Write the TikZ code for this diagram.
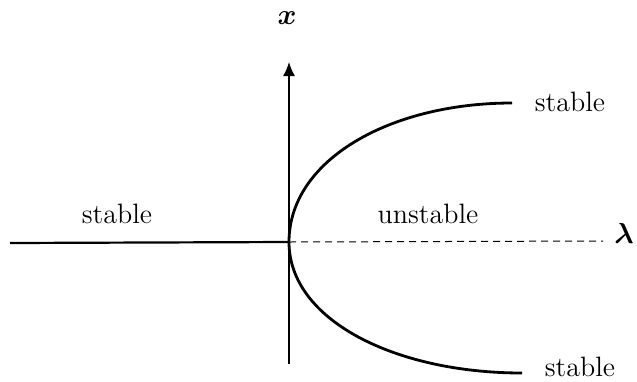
\documentclass[tikz,border=0pt]{standalone}
\usepackage{amsmath}
\usepackage{amssymb}
\usepackage{xcolor}
\usetikzlibrary{arrows.meta}

\begin{document}
\begin{tikzpicture}[x=0.5pt,y=-0.5pt,
  lbl/.style={font=\fontsize{14}{16}\selectfont},
  axlbl/.style={font=\fontsize{14}{16}\selectfont\boldmath}]
\useasboundingbox (0,0) rectangle (637,381);
\coordinate (O) at (289,242);
\coordinate (xtop) at (289,62);
\coordinate (xbot) at (289,364);
\coordinate (lend) at (10,243);
\coordinate (rend) at (603,241);
\coordinate (up) at (512,103);
\coordinate (lo) at (522,373);
% axes
\draw[line width=0.75pt,-{Latex[length=7pt,width=6pt]}] (xbot) -- (xtop);
\node[axlbl] (xl) at (287,18) {\(x\)};
\draw[line width=1.1pt] (lend) -- (O);
\draw[line width=0.5pt,dash pattern=on 3.5pt off 2.5pt] (O) -- (rend);
\node[axlbl,anchor=east,inner sep=1pt] (ll) at (636,233) {\(\lambda\)};
% branches
\draw[line width=1.4pt] (up) .. controls (390,103) and (289,160) .. (O)
  .. controls (289,320) and (395,373) .. (lo);
\node[lbl] (s1) at (117,214) {stable};
\node[lbl] (u) at (428,214) {unstable};
\node[lbl] (s2) at (570,102) {stable};
\node[lbl] (s3) at (580,367) {stable};
\end{tikzpicture}
\end{document}
